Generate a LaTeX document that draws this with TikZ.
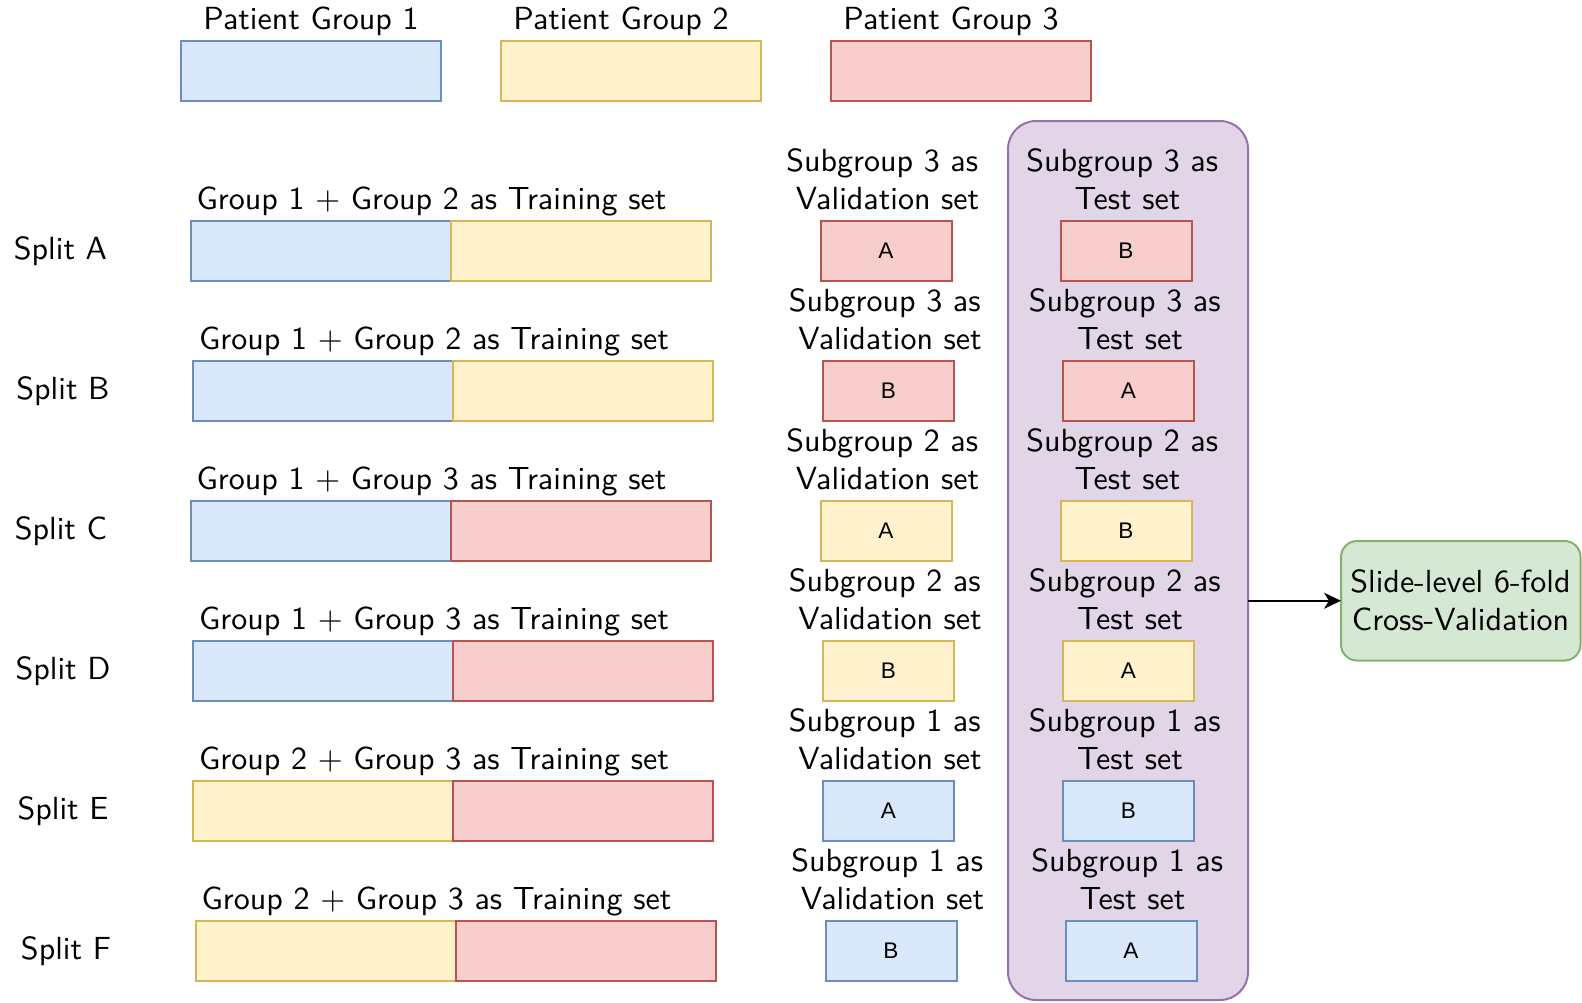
\documentclass[tikz,border=0pt]{standalone}
\usepackage{fontspec}
\newfontfamily\helv{Liberation Sans}
\newfontfamily\lmsten{lmsans10-regular.otf}
\usetikzlibrary{arrows.meta}
\definecolor{bluefill}{HTML}{DAE8FC}\definecolor{blueline}{HTML}{6C8EBF}
\definecolor{yellowfill}{HTML}{FFF2CC}\definecolor{yellowline}{HTML}{D6B656}
\definecolor{redfill}{HTML}{F8CECC}\definecolor{redline}{HTML}{B85450}
\definecolor{purplefill}{HTML}{E1D5E7}\definecolor{purpleline}{HTML}{9673A6}
\definecolor{greenfill}{HTML}{D5E8D4}\definecolor{greenline}{HTML}{82B366}
\newcommand\twolines[2]{\begin{tabular}[b]{@{}c@{}}#1\kern0.333em\\#2\end{tabular}}
\begin{document}
\begin{tikzpicture}[x=0.5pt,y=-0.5pt,
  cell/.style={draw=#1line, fill=#1fill, line width=1pt, inner sep=0, outer sep=0, anchor=north west},
  bar/.style={minimum width=130pt, minimum height=30pt},
  smallbox/.style={minimum width=65.5pt, minimum height=30pt, font=\helv\fontsize{11.3}{13}\selectfont},
  lbl/.style={font=\lmsten\fontsize{16}{18.8}\selectfont, inner sep=0, outer sep=0, anchor=base},
  arrowst/.style={line width=1pt, -{Stealth[length=8.5pt,width=8pt,inset=2.5pt]}}]
\useasboundingbox (0,0) rectangle (1582,1002);
% patient groups
\node[cell=blue, bar] (pg1) at (180.5,41) {};
\node[cell=yellow, bar] (pg2) at (501,41) {};
\node[cell=red, bar] (pg3) at (831,41) {};
\node[lbl] (pg1l) at (311,29.5) {Patient Group 1};
\node[lbl] (pg2l) at (621,29.5) {Patient Group 2};
\node[lbl] (pg3l) at (951,29.5) {Patient Group 3};
% test container
\node[draw=purpleline, fill=purplefill, line width=1pt, rounded corners=14pt,
      minimum width=120pt, minimum height=439.5pt, inner sep=0, outer sep=0, anchor=north west] (cv) at (1008,121) {};
% green result
\node[draw=greenline, fill=greenfill, line width=1pt, rounded corners=8pt,
      minimum width=119.75pt, minimum height=59.75pt, inner sep=0, outer sep=0, anchor=north west] (res) at (1341,541) {};
\node[lbl] (resl) at (1460.5,630) {\begin{tabular}[b]{@{}c@{}}Slide-level 6-fold\\Cross-Validation\end{tabular}};
\draw[arrowst] (cv.east |- res.west) -- (res.west);
% splits
\foreach \rN/\rK/\rD/\rS/\rCa/\rCb/\rGa/\rGb/\rSg/\rCv/\rVa/\rTa in {
  A/0/0/60.5/blue/yellow/1/2/3/red/A/B,
  B/1/2.5/63/blue/yellow/1/2/3/red/B/A,
  C/2/0/61/blue/red/1/3/2/yellow/A/B,
  D/3/2.5/63/blue/red/1/3/2/yellow/B/A,
  E/4/2.5/63/yellow/red/2/3/1/blue/A/B,
  F/5/5/66/yellow/red/2/3/1/blue/B/A}{
  \pgfmathsetmacro\rowy{221+140*\rK}
  \node[cell=\rCa, bar] (tr\rN1) at (190.5+\rD,\rowy) {};
  \node[cell=\rCb, bar] (tr\rN2) at (tr\rN1.north east) {};
  \node[lbl] (trl\rN) at (431.5+\rD,\rowy-11.5) {Group \rGa{} + Group \rGb{} as Training set};
  \node[lbl] (sp\rN) at (\rS,\rowy+38.5) {Split \rN};
  \node[cell=\rCv, smallbox] (va\rN) at (820.5+\rD,\rowy) {\rVa};
  \node[lbl] (val\rN) at (887.5+\rD,\rowy-11.5) {\twolines{Subgroup \rSg{} as}{Validation set}};
  \node[cell=\rCv, smallbox] (te\rN) at (1060.5+\rD,\rowy) {\rTa};
  \node[lbl] (tel\rN) at (1127.5+\rD,\rowy-11.5) {\twolines{Subgroup \rSg{} as}{Test set}};
}
\end{tikzpicture}
\end{document}
